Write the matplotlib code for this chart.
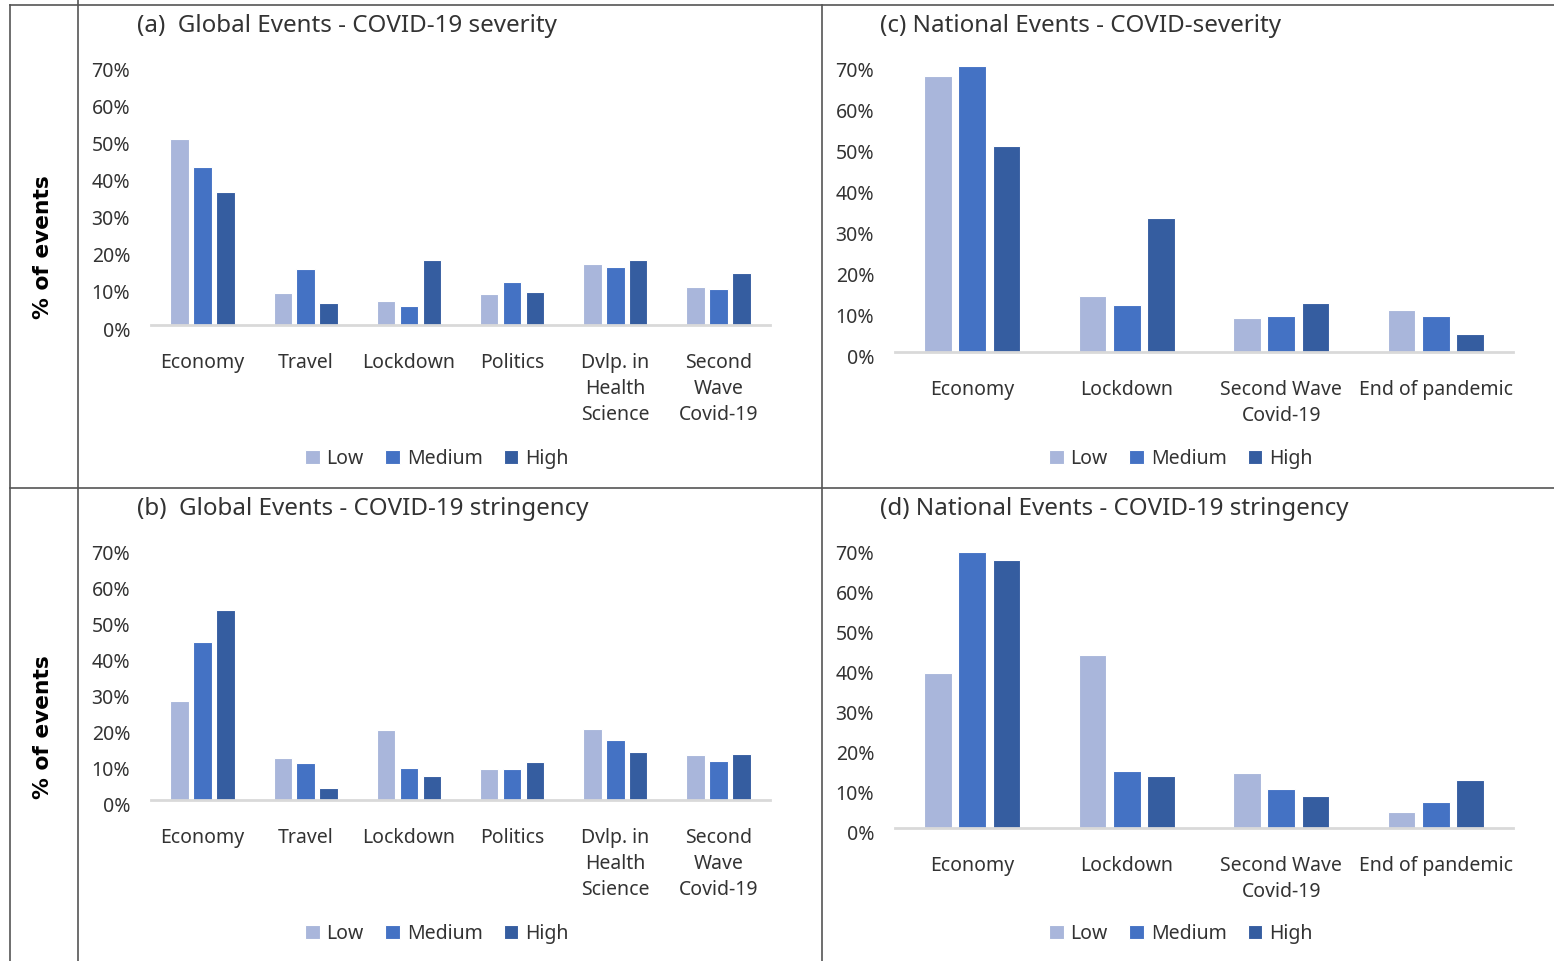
import numpy as np
import matplotlib
matplotlib.use('Agg')
import matplotlib.pyplot as plt
import matplotlib.transforms as mtransforms
from matplotlib.lines import Line2D

plt.rcParams['font.family'] = ['Noto Sans', 'DejaVu Sans']

# data (percent of events)
global_cats = ['Economy', 'Travel', 'Lockdown', 'Politics',
               'Dvlp. in\nHealth\nScience', 'Second\nWave\nCovid-19']
national_cats = ['Economy', 'Lockdown', 'Second Wave\nCovid-19', 'End of pandemic']
levels = ['Low', 'Medium', 'High']

a_low = [50.0, 8.5, 6.5, 8.3, 16.4, 10.2]
a_med = [42.5, 15.0, 5.1, 11.6, 15.5, 9.8]
a_high = [35.8, 5.8, 17.6, 8.8, 17.4, 13.9]

b_low = [27.4, 11.6, 19.4, 8.6, 19.7, 12.4]
b_med = [44.0, 10.3, 9.0, 8.6, 16.8, 10.8]
b_high = [52.9, 3.2, 6.6, 10.6, 13.2, 12.8]

c_low = [67.3, 13.7, 8.3, 10.3]
c_med = [69.8, 11.5, 8.8, 8.8]
c_high = [50.3, 32.7, 12.0, 4.5]

d_low = [39.0, 43.4, 13.8, 4.0]
d_med = [69.3, 14.4, 9.7, 6.5]
d_high = [67.2, 13.0, 8.0, 12.0]

colors = ['#A9B6DB', '#4472C4', '#355DA0']
txt = '#333333'
W, H = 1554, 961

fig = plt.figure(figsize=(W / 100, H / 100), dpi=100)


def px_axes(x1, x2, ytop, ybase):
    return fig.add_axes([x1 / W, 1 - ybase / H, (x2 - x1) / W, (ybase - ytop) / H])


def draw(ax, cats, series, title, title_xy, legend_x, legend_y):
    x = np.arange(len(cats))
    pitch, width = 0.222, 0.18
    for i, (vals, lab) in enumerate(zip(series, levels)):
        ax.bar(x + (i - 1) * pitch, vals, width, color=colors[i], label=lab,
               edgecolor='white', linewidth=0.8)
    ax.set_xlim(-0.5, len(cats) - 0.5)
    ax.set_ylim(0, 70)
    ax.set_yticks(np.arange(0, 71, 10))
    ax.set_yticklabels(['%d%%' % v for v in range(0, 71, 10)])
    ax.set_xticks(x)
    ax.set_xticklabels(cats, linespacing=1.42, va='top')
    ax.tick_params(axis='y', length=0, pad=15, labelsize=14, labelcolor=txt)
    ax.tick_params(axis='x', length=0, pad=20, labelsize=14, labelcolor=txt)
    # excel puts the % labels a little below the gridline
    shift = mtransforms.ScaledTranslation(0, -4 / 100, fig.dpi_scale_trans)
    for lbl in ax.get_yticklabels():
        lbl.set_transform(lbl.get_transform() + shift)
    for s in ['top', 'right', 'left']:
        ax.spines[s].set_visible(False)
    ax.spines['bottom'].set_color('#D9D9D9')
    ax.spines['bottom'].set_linewidth(2)
    fig.text(title_xy[0] / W, 1 - title_xy[1] / H, title, fontsize=17.4,
             color=txt, ha='left', va='center')
    fig.legend(*ax.get_legend_handles_labels(), loc='center',
               bbox_to_anchor=(legend_x / W, 1 - legend_y / H), ncol=3,
               frameon=False, fontsize=14, handlelength=0.75, handleheight=0.75,
               handletextpad=0.35, columnspacing=1.1, labelcolor=txt)


ax_a = px_axes(151, 770, 65, 325)
draw(ax_a, global_cats, [a_low, a_med, a_high],
     '(a)  Global Events - COVID-19 severity', (137, 26), 437, 459)
ax_b = px_axes(151, 770, 548, 800)
draw(ax_b, global_cats, [b_low, b_med, b_high],
     '(b)  Global Events - COVID-19 stringency', (137, 509), 437, 934)
ax_c = px_axes(895, 1513, 65, 352)
draw(ax_c, national_cats, [c_low, c_med, c_high],
     '(c) National Events - COVID-severity', (880, 26), 1181, 459)
ax_d = px_axes(895, 1513, 549, 828)
draw(ax_d, national_cats, [d_low, d_med, d_high],
     '(d) National Events - COVID-19 stringency', (880, 509), 1181, 934)

# row labels
for yc in [247, 727]:
    fig.text(43 / W, 1 - yc / H, '% of events', rotation=90, fontsize=15.7,
             fontweight='bold', family='DejaVu Sans', ha='center', va='center')

# table borders
lc = '#555555'
segs = [((10, 1554), (5, 5)), ((10, 10), (5, 961)), ((78, 78), (0, 961)),
        ((822, 822), (5, 961)), ((10, 1554), (488, 488))]
for xs, ys in segs:
    fig.add_artist(Line2D([v / W for v in xs], [1 - v / H for v in ys],
                          color=lc, linewidth=1.2))

fig.savefig('out.png', dpi=100)
